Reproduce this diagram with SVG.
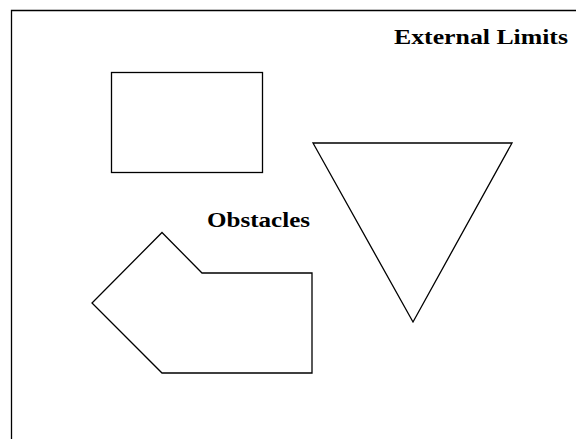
<svg xmlns="http://www.w3.org/2000/svg" width="576" height="439" viewBox="0 0 576 439">
<style>
.shape{fill:none;stroke:#000;stroke-width:1.3}
.lbl{font-family:"Liberation Serif","Times New Roman",serif;font-weight:bold;font-size:21px;fill:#000}
</style>
<rect width="576" height="439" fill="#fff"/>
<g id="frame"><path class="shape" d="M11.5,440 V10.5 H577"/></g>
<g id="rect-obstacle"><rect class="shape" x="111.5" y="72.5" width="151" height="100"/></g>
<g id="triangle-obstacle"><polygon class="shape" points="313,143 512,143 413,322"/></g>
<g id="polygon-obstacle"><polygon class="shape" points="162,232.5 202,273 312,273 312,373 162,373 92,303"/></g>
<g id="label-external"><text class="lbl" x="394" y="44" textLength="174" lengthAdjust="spacingAndGlyphs">External Limits</text></g>
<g id="label-obstacles"><text class="lbl" x="207" y="227" textLength="103" lengthAdjust="spacingAndGlyphs">Obstacles</text></g>
<g id="connectors"></g>
</svg>
